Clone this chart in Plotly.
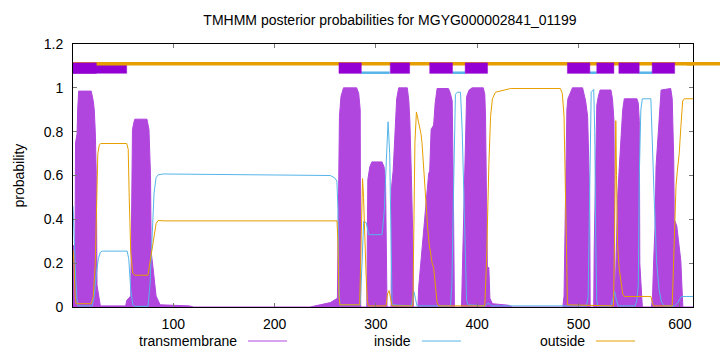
import plotly.graph_objects as go

# ---------------- data ----------------
seq_len = 613
title_text = "TMHMM posterior probabilities for MGYG000002841_01199"

# transmembrane posterior (drawn as filled impulses)
tm_pos = [1, 3, 3.5, 5, 5.6, 6.6, 8, 19, 21, 22, 23, 24, 24.7, 27, 28,
          53, 54, 58, 59, 59.7, 61, 62, 74, 76, 77.5, 78.2, 80, 83, 87, 116, 120,
          235, 245, 255, 262, 263, 264, 265.5, 268, 281, 283, 284.5, 285,
          291, 291.5, 292, 294, 296, 306, 308, 309.5, 310.5, 311,
          315, 315.5, 317, 318.5, 319.5, 320.5, 322.5, 331, 332.5, 333.5, 335, 336.5, 337,
          341.5, 342.2, 344.5, 346.8, 348.8, 350.5, 352.1, 353.1, 354.5, 357, 358.5, 360.4,
          371.6, 373.5, 375.3, 376.5, 377.5,
          384.5, 385.2, 386.8, 388.5, 389.5, 392, 395, 406, 407.5, 408.2, 409.5, 410, 411.5,
          412.5, 415, 431, 435,
          484.5, 485.7, 487, 488.5, 489.5, 494, 504, 505.5, 507, 509, 510.4, 511, 511.5,
          515, 515.5, 517, 518, 519.5, 521.3, 532, 533.5, 535, 536,
          537, 538.5, 540, 542, 543.6, 545.2, 557.6, 559, 560, 560.5, 561.5, 563,
          572, 573, 574.4, 575.5, 576.5, 578.5, 580, 581.5, 591, 592.5, 594, 594.5, 597,
          599, 601, 602, 603, 613]
tm_val = [0.28, 0.28, 0.75, 0.79, 0.9, 0.985, 0.985, 0.985, 0.94, 0.9, 0.8, 0.6, 0.1, 0.04, 0.005,
          0.005, 0.03, 0.05, 0.5, 0.81, 0.84, 0.857, 0.857, 0.81, 0.6, 0.25, 0.18, 0.05, 0.01, 0.005, 0.0,
          0.0, 0.01, 0.02, 0.04, 0.6, 0.87, 0.96, 1.0, 1.0, 0.975, 0.9, 0.0,
          0.0, 0.3, 0.58, 0.64, 0.662, 0.662, 0.64, 0.58, 0.1, 0.0,
          0.0, 0.55, 0.62, 0.75, 0.87, 0.95, 1.0, 1.0, 0.94, 0.85, 0.6, 0.3, 0.0,
          0.0, 0.09, 0.21, 0.33, 0.44, 0.55, 0.61, 0.62, 0.81, 0.83, 0.93, 0.997,
          0.997, 0.975, 0.94, 0.5, 0.0,
          0.0, 0.14, 0.4, 0.8, 0.96, 0.99, 1.0, 1.0, 0.97, 0.87, 0.5, 0.18, 0.18,
          0.04, 0.015, 0.008, 0.0,
          0.0, 0.05, 0.4, 0.9, 0.95, 1.0, 1.0, 0.97, 0.94, 0.87, 0.55, 0.5, 0.0,
          0.0, 0.27, 0.6, 0.92, 0.96, 0.99, 0.99, 0.95, 0.85, 0.0,
          0.2, 0.49, 0.62, 0.79, 0.9, 0.95, 0.95, 0.93, 0.85, 0.2, 0.11, 0.0,
          0.0, 0.045, 0.24, 0.36, 0.64, 0.79, 0.9, 0.99, 0.997, 0.95, 0.67, 0.4, 0.37,
          0.29, 0.21, 0.1, 0.0, 0.0]

# inside posterior
inside_pos = [1, 2, 3.5, 5, 6, 20, 22, 24, 26, 28, 30, 54.5, 56, 58, 60, 62, 75, 77, 79, 81, 83,
              85, 90, 250, 255, 259, 261.5, 262.5, 263.5, 264.5, 284.5, 286.3, 287.9, 290.5,
              292.8, 306, 308.3, 310.3, 312, 313.6, 314.9, 316, 335, 336.5, 337.5, 339, 340.5,
              373.6, 375, 376.5, 378.5, 380.2, 383.5, 385.2, 386.8, 388.5, 389.5, 391, 408,
              410, 412, 414, 508, 509.5, 510.5, 511.5, 512.5, 515, 516, 517, 518, 519, 532,
              534, 535.5, 537, 539, 556, 557.5, 559, 560, 561.5, 563, 571.4, 573, 574.5, 577,
              579.5, 582, 585, 594.8, 598, 601.5, 613]
inside_val = [0.46, 0.3, 0.15, 0.03, 0.005, 0.005, 0.05, 0.15, 0.22, 0.25, 0.255, 0.255, 0.22,
              0.08, 0.01, 0.003, 0.003, 0.1, 0.35, 0.52, 0.59, 0.603, 0.607, 0.603, 0.6, 0.59,
              0.575, 0.45, 0.1, 0.01, 0.01, 0.2, 0.39, 0.385, 0.33, 0.33, 0.44, 0.67, 0.845,
              0.7, 0.21, 0.01, 0.005, 0.05, 0.07, 0.04, 0.005, 0.005, 0.1, 0.5, 0.97, 0.98,
              0.98, 0.8, 0.5, 0.1, 0.03, 0.01, 0.005, 0.015, 0.015, 0.005, 0.005, 0.05, 0.4,
              0.8, 0.98, 0.993, 0.8, 0.3, 0.03, 0.005, 0.005, 0.04, 0.07, 0.04, 0.005, 0.005,
              0.03, 0.1, 0.6, 0.9, 0.95, 0.95, 0.7, 0.52, 0.21, 0.08, 0.02, 0.005, 0.005, 0.02,
              0.048, 0.048]

# outside posterior
outside_pos = [1, 2, 3, 4, 19, 21, 23, 24.5, 25.5, 27, 28.5, 54, 55.5, 56.5, 58, 60, 62, 75,
               77, 79, 81, 83, 85, 90, 261.6, 262.5, 263.5, 264.5, 284, 285.3, 286.8, 287.8,
               289, 290.3, 291.5, 292.5, 310, 311.5, 313, 314.5, 316, 336.5, 337.5, 338.5, 340,
               341, 342.5, 344.5, 345.5, 346.5, 347.5, 349, 351, 352.5, 354, 355.5, 357, 358.5,
               360.4, 362, 407.5, 409.2, 410.5, 411.5, 413.2, 415, 418, 431, 433, 482, 484,
               485.7, 487, 488.4, 489, 534.5, 535.5, 536.2, 536.8, 537.5, 538.5, 540, 543.6,
               545.2, 571.4, 573, 574, 592.5, 594, 595, 596.2, 597.5, 599.4, 601, 602.8, 604.4,
               613]
outside_val = [0.26, 0.2, 0.06, 0.015, 0.015, 0.05, 0.2, 0.55, 0.7, 0.74, 0.746, 0.746, 0.72,
               0.5, 0.25, 0.155, 0.145, 0.145, 0.2, 0.27, 0.32, 0.38, 0.395, 0.393, 0.393, 0.3,
               0.05, 0.01, 0.01, 0.3, 0.586, 0.5, 0.3, 0.15, 0.03, 0.005, 0.005, 0.06, 0.075,
               0.04, 0.005, 0.005, 0.4, 0.75, 0.89, 0.87, 0.84, 0.79, 0.75, 0.67, 0.62, 0.52,
               0.365, 0.29, 0.24, 0.2, 0.18, 0.09, 0.02, 0.005, 0.005, 0.21, 0.52, 0.65, 0.87,
               0.95, 0.98, 0.993, 0.997, 0.997, 0.975, 0.87, 0.6, 0.2, 0.01, 0.005, 0.3, 0.82,
               0.85, 0.6, 0.29, 0.18, 0.06, 0.048, 0.048, 0.02, 0.005, 0.005, 0.2, 0.36, 0.55,
               0.62, 0.7, 0.82, 0.94, 0.95, 0.95]

# predicted topology drawn above the curves
tm_box_first = (1, 54)
tm_boxes = [(1, 24), (263.5, 285.6), (314.2, 333.3), (353.1, 375.6), (388.1, 410.2),
            (489, 511.2), (518, 534.9), (539.8, 559.9), (572.7, 594.9)]
inside_segments = [(285.6, 313.6), (375.6, 388.1), (511.2, 518), (559.9, 572.7)]
outside_level = 1.11
inside_level = 1.069
tm_box_range = (1.066, 1.114)

x_ticks = [100, 200, 300, 400, 500, 600]
y_ticks = [0, 0.2, 0.4, 0.6, 0.8, 1, 1.2]
legend_names = ["transmembrane", "inside", "outside"]

# ---------------- styling ----------------
C_TM = "#B046DE"
C_TM_BOX = "#9400D3"
C_IN = "#56B4E9"
C_OUT = "#E69F00"
FONT = "Liberation Sans, Arial, Helvetica, sans-serif"

W, H = 720, 352
ML, MR, MT, MB = 73, 27, 44, 45
PW = W - ML - MR
PH = H - MT - MB

fig = go.Figure()
fig.add_trace(go.Scatter(x=tm_pos, y=tm_val, mode="lines", fill="tozeroy",
                         line=dict(color=C_TM, width=1), fillcolor=C_TM,
                         name=legend_names[0], hoverinfo="skip"))
fig.add_trace(go.Scatter(x=inside_pos, y=inside_val, mode="lines",
                         line=dict(color=C_IN, width=1), name=legend_names[1]))
fig.add_trace(go.Scatter(x=outside_pos, y=outside_val, mode="lines",
                         line=dict(color=C_OUT, width=1), name=legend_names[2]))

shapes = []
# first TM box partially under the outside bar
shapes.append(dict(type="rect", xref="x", yref="y", x0=tm_box_first[0], x1=tm_box_first[1],
                   y0=tm_box_range[0], y1=tm_box_range[1], fillcolor=C_TM_BOX,
                   line=dict(color="rgba(148,0,211,0.45)", width=1)))
# outside bar, extends beyond the frame like the gnuplot arrow
shapes.append(dict(type="line", xref="x", yref="y", x0=1, x1=seq_len, y0=outside_level,
                   y1=outside_level, line=dict(color=C_OUT, width=3.6)))
shapes.append(dict(type="line", xref="paper", yref="y", x0=0.99, x1=(W - ML) / PW + 0.01,
                   y0=outside_level, y1=outside_level, line=dict(color=C_OUT, width=3.6)))
for a, b in inside_segments:
    shapes.append(dict(type="line", xref="x", yref="y", x0=a, x1=b, y0=inside_level,
                       y1=inside_level, line=dict(color=C_IN, width=2.5)))
for a, b in tm_boxes:
    shapes.append(dict(type="rect", xref="x", yref="y", x0=a, x1=b,
                       y0=tm_box_range[0], y1=tm_box_range[1], fillcolor=C_TM_BOX,
                       line=dict(color="rgba(148,0,211,0.45)", width=1)))

# custom gnuplot-like key: text followed by a line sample
annotations = []
key_y_px = 341
key_text_right = 239
key_step = 174
key_colors = [C_TM, C_IN, C_OUT]
for i, (name, col) in enumerate(zip(legend_names, key_colors)):
    tr = key_text_right + i * key_step
    yp = (H - MB - key_y_px) / PH
    annotations.append(dict(text=name, xref="paper", yref="paper", x=(tr - ML) / PW, y=yp,
                            xanchor="right", yanchor="middle", showarrow=False,
                            font=dict(size=14, family=FONT, color="black")))
    shapes.append(dict(type="line", xref="paper", yref="paper",
                       x0=(tr + 9 - ML) / PW, x1=(tr + 48 - ML) / PW, y0=yp, y1=yp,
                       line=dict(color=col, width=1)))

# y axis title
annotations.append(dict(text="probability", xref="paper", yref="paper",
                        x=(18 - ML) / PW, y=0.5, xanchor="center", yanchor="middle",
                        textangle=-90, showarrow=False,
                        font=dict(size=14, family=FONT, color="black")))

fig.update_layout(
    width=W, height=H,
    margin=dict(l=ML, r=MR, t=MT, b=MB, pad=0),
    paper_bgcolor="white", plot_bgcolor="white",
    font=dict(family=FONT, size=14, color="black"),
    showlegend=False,
    title=dict(text=title_text, x=(390 - ML) / PW, xref="paper", xanchor="center",
               y=1 - 20 / H, yref="container", yanchor="middle",
               font=dict(size=14, family=FONT, color="black")),
    xaxis=dict(range=[1, seq_len], tickvals=x_ticks, ticks="inside", ticklen=4,
               tickcolor="#777", tickwidth=1, showline=True, linecolor="black",
               linewidth=1, mirror="ticks", showgrid=False, zeroline=False,
               ticklabelstandoff=4),
    yaxis=dict(range=[0, 1.2], tickvals=y_ticks, ticks="inside", ticklen=4,
               tickcolor="#777", tickwidth=1, showline=True, linecolor="black",
               linewidth=1, mirror="ticks", showgrid=False, zeroline=False,
               ticklabelstandoff=6),
    shapes=shapes,
    annotations=annotations,
)

fig.write_html("out.html")
